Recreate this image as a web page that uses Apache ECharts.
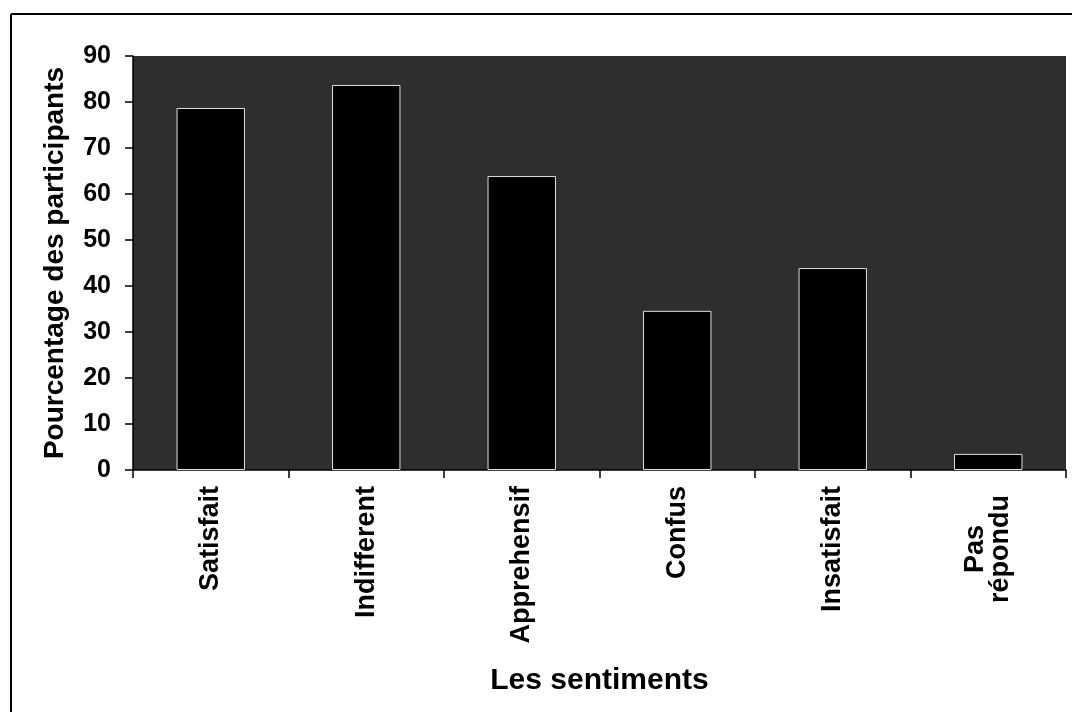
<!DOCTYPE html>
<html>
<head>
<meta charset="utf-8">
<script src="https://cdn.jsdelivr.net/npm/echarts@6/dist/echarts.min.js"></script>
<style>
html,body{margin:0;padding:0;background:#fff;}
#chart{width:1072px;height:712px;}
</style>
</head>
<body>
<div id="chart"></div>
<script>
const categories = ['Satisfait', 'Indifferent', 'Apprehensif', 'Confus', 'Insatisfait', 'Pas\nrépondu'];
const values = [78.7, 83.7, 63.9, 34.6, 43.9, 3.5];
const yTicks = [0, 90, 10];
const yTitle = 'Pourcentage des participants';
const xTitle = 'Les sentiments';

const font = "'Liberation Sans', Arial, Helvetica, sans-serif";
const chart = echarts.init(document.getElementById('chart'), null, {renderer: 'canvas'});
chart.setOption({
  animation: false,
  backgroundColor: '#ffffff',
  graphic: [
    {type: 'line', shape: {x1: 11, y1: 14, x2: 11, y2: 712}, style: {stroke: '#000', lineWidth: 2}},
    {type: 'line', shape: {x1: 11, y1: 14, x2: 1072, y2: 14}, style: {stroke: '#000', lineWidth: 2}}
  ],
  grid: {
    left: 133, right: 6, top: 56, bottom: 242,
    show: true, backgroundColor: '#2e2e2e', borderWidth: 0
  },
  xAxis: {
    type: 'category',
    data: categories,
    name: xTitle,
    nameLocation: 'middle',
    nameGap: 196,
    nameTextStyle: {fontFamily: font, fontWeight: 'bold', fontSize: 30, color: '#000'},
    axisLine: {show: true, lineStyle: {color: '#000', width: 1.5}},
    axisTick: {show: true, length: 8, alignWithLabel: false, lineStyle: {color: '#000', width: 1.5}},
    axisLabel: {
      rotate: 90, margin: 16, color: '#000',
      fontFamily: font, fontWeight: 'bold', fontSize: 27, lineHeight: 25,
      interval: 0,
      formatter: function (v) {
        if (v.indexOf('\n') >= 0) {
          return v.split('\n').map(s => '{c|' + s + '}').join('\n');
        }
        return v;
      },
      rich: {
        c: {width: 126, align: 'center', fontFamily: font, fontWeight: 'bold', fontSize: 27, lineHeight: 25, color: '#000'}
      }
    }
  },
  yAxis: {
    type: 'value',
    min: yTicks[0], max: yTicks[1], interval: yTicks[2],
    name: yTitle,
    nameLocation: 'middle',
    nameGap: 64,
    nameTextStyle: {fontFamily: font, fontWeight: 'bold', fontSize: 28, color: '#000'},
    axisLine: {show: true, lineStyle: {color: '#000', width: 1.5}},
    axisTick: {show: true, length: 8, lineStyle: {color: '#000', width: 1.5}},
    axisLabel: {margin: 22, color: '#000', fontFamily: font, fontWeight: 'bold', fontSize: 25},
    splitLine: {show: false}
  },
  series: [{
    type: 'bar',
    data: values,
    barCategoryGap: '56%',
    itemStyle: {color: '#000', borderColor: '#e0e0e0', borderWidth: 1}
  }]
});
</script>
</body>
</html>
